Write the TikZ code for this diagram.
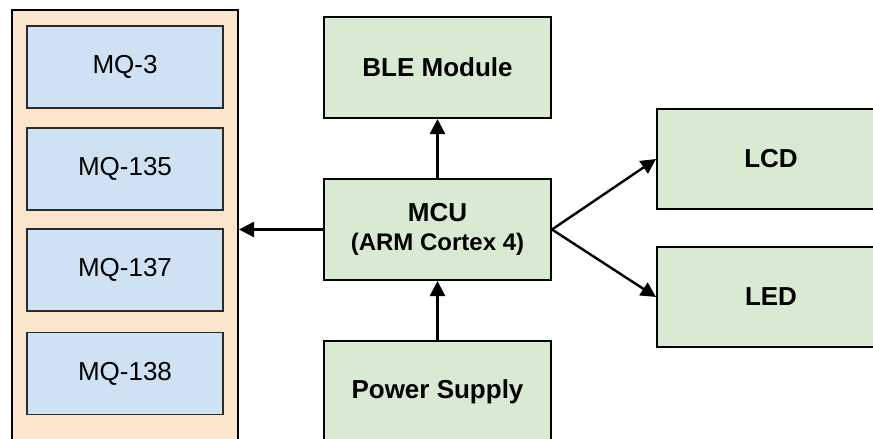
\documentclass[tikz,border=0pt]{standalone}
\usepackage{fontspec}
\setmainfont{Liberation Sans}
\usetikzlibrary{arrows.meta}
\definecolor{panelfill}{HTML}{FCE5CD}
\definecolor{sensorfill}{HTML}{CFE2F3}
\definecolor{blockfill}{HTML}{D9EAD3}
\definecolor{sensoredge}{HTML}{2B2B2B}
\tikzset{
  panel/.style={draw=black, line width=2pt, fill=panelfill, inner sep=0pt,
    minimum width=226pt, minimum height=450pt},
  sensor/.style={draw=sensoredge, line width=1.6pt, fill=sensorfill, inner sep=0pt,
    minimum width=196pt, minimum height=82pt, font=\fontsize{26}{30}\selectfont},
  block/.style={draw=black, line width=2pt, fill=blockfill, inner sep=0pt,
    minimum width=227pt, minimum height=101pt, align=center,
    font=\fontsize{26}{30}\selectfont\bfseries},
  link/.style={line width=2.4pt, -{Triangle[length=15pt, width=15pt]}},
}
\begin{document}
\begin{tikzpicture}[x=1pt, y=-1pt]
  \useasboundingbox (0,0) rectangle (873,439);
  \clip (0,0) rectangle (873,439);
  \fill[white] (0,0) rectangle (873,439);

  % sensor array
  \node[panel] (sensors) at (125,235) {};
  \node[sensor] (mq3)   at (125,67)    {MQ-3};
  \node[sensor] (mq135) at (125,169)   {MQ-135};
  \node[sensor] (mq137) at (125,270)   {MQ-137};
  \node[sensor] (mq138) at (125,373.5) {MQ-138};

  % processing and peripherals
  \node[block] (ble)   at (437.5,67.5)  {BLE Module};
  \node[block] (mcu)   at (437.5,229.5) {MCU\\[-1pt]{\fontsize{24}{28}\selectfont (ARM Cortex 4)}};
  \node[block, minimum height=102pt] (power) at (437.5,392) {Power Supply};
  \node[block, minimum width=228pt, minimum height=100pt] (lcd) at (771,159) {LCD};
  \node[block, minimum width=228pt, minimum height=100pt] (led) at (771,297) {LED};

  % connections
  \draw[link] (mcu.west) -- (mcu.west -| sensors.east);
  \draw[link] (mcu.north) -- (ble.south);
  \draw[link] (power.north) -- (mcu.south);
  \draw[link] (mcu.east) -- (lcd.west);
  \draw[link] (mcu.east) -- (led.west);
\end{tikzpicture}
\end{document}
